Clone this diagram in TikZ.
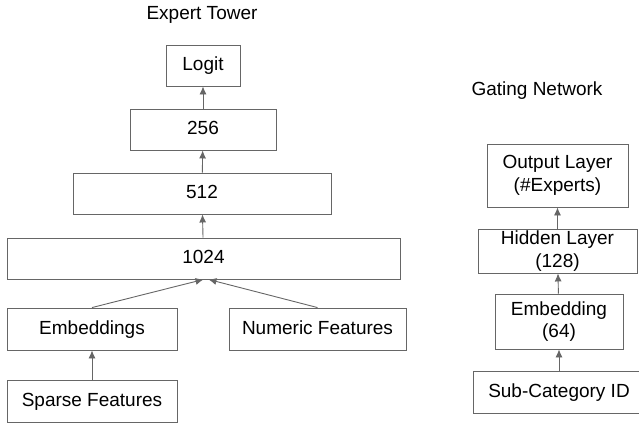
\documentclass[tikz,border=0pt]{standalone}
\usepackage{fontspec}
\setmainfont{Liberation Sans}
\usetikzlibrary{arrows.meta}
\definecolor{linegray}{HTML}{666666}
\begin{document}
\begin{tikzpicture}[x=1pt, y=-1pt,
    font=\fontsize{19}{22.5}\selectfont,
    layer/.style={draw=linegray, line width=0.9pt, fill=white, inner sep=0pt, align=center},
    oneline/.style={text height=14pt, text depth=4pt},
    >={Latex[length=8pt,width=7pt]},
    flow/.style={->, draw=linegray, line width=0.9pt}]
    \useasboundingbox (0, 0) rectangle (639, 423);

    \node[oneline] (ttower) at (202, 14) {Expert Tower};
    \node[layer, oneline, minimum width=74pt, minimum height=41pt] (logit) at (203, 65.5) {Logit};
    \node[layer, oneline, minimum width=146pt, minimum height=41pt] (h256) at (203, 129.5) {256};
    \node[layer, oneline, minimum width=258pt, minimum height=41pt] (h512) at (202, 193.5) {512};
    \node[layer, oneline, minimum width=393pt, minimum height=41pt] (h1024) at (203.5, 258.5) {1024};
    \node[layer, oneline, minimum width=170pt, minimum height=42pt] (emb) at (92, 329) {Embeddings};
    \node[layer, oneline, minimum width=177pt, minimum height=42pt] (numeric) at (317.5, 329) {Numeric Features};
    \node[layer, oneline, minimum width=170pt, minimum height=42pt] (sparse) at (92, 401) {Sparse Features};

    \node[oneline] (tgate) at (537, 90) {Gating Network};
    \node[layer, minimum width=141pt, minimum height=63pt] (gout) at (557.5, 175.5) {Output Layer\\(\#Experts)};
    \node[layer, minimum width=159pt, minimum height=44pt] (ghidden) at (557.5, 251) {Hidden Layer\\(128)};
    \node[layer, minimum width=128pt, minimum height=55pt] (gemb) at (559, 321.5) {Embedding\\(64)};
    \node[layer, oneline, minimum width=172pt, minimum height=42pt] (gsub) at (559, 392.5) {Sub-Category ID};

    \draw[flow] (h256) -- (logit);
    \draw[flow] (h512) -- (h256);
    \draw[flow] (h1024) -- (h512);
    \draw[flow] (emb.north) -- (h1024.south);
    \draw[flow] (numeric.north) -- ([xshift=5pt]h1024.south);
    \draw[flow] (sparse) -- (emb);

    \draw[flow] (ghidden) -- (gout);
    \draw[flow] (gemb) -- (ghidden);
    \draw[flow] (gsub) -- (gemb);
\end{tikzpicture}
\end{document}
